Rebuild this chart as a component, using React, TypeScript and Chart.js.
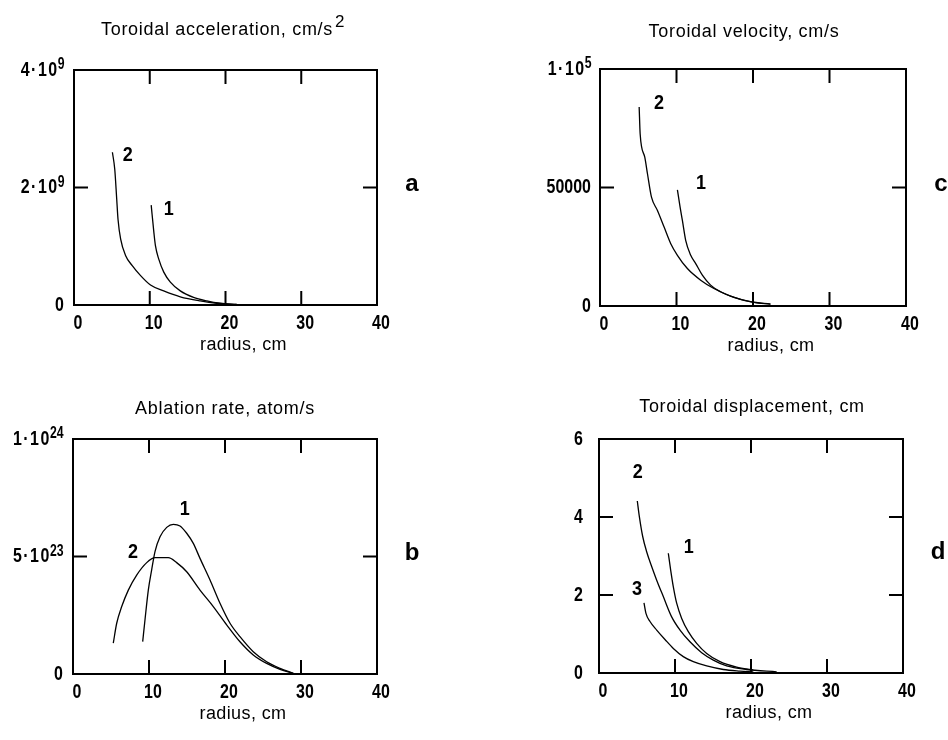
import { useEffect, useRef } from "react";
import { Chart, registerables } from "chart.js";

Chart.register(...registerables);

// ---- radius axis ----
const radiusTicks = [0, 10, 20, 30, 40];
const radiusInner = [10, 20, 30];

// ---- (a) toroidal acceleration, cm/s^2 ----
const accR1 = [10.19, 10.54, 10.75, 11.19, 11.85, 12.72, 14.03, 15.78, 17.53, 19.28, 21.47];
const accV1 = [1.7e9, 1.24e9, 1.01e9, 0.78e9, 0.56e9, 0.39e9, 0.24e9, 0.13e9, 0.07e9, 0.03e9, 0.01e9];
const accR2 = [5.07, 5.38, 5.64, 5.81, 6.16, 6.82, 7.69, 8.79, 10.1, 11.84, 14.03, 16.66, 18.84, 21.47];
const accV2 = [2.6e9, 2.31e9, 1.8e9, 1.46e9, 1.12e9, 0.84e9, 0.67e9, 0.5e9, 0.34e9, 0.24e9, 0.14e9, 0.07e9, 0.03e9, 0.01e9];
const accYTicks = [0, 2e9, 4e9];
const accYBase = ["0", "2·10", "4·10"];
const accYExp = ["", "9", "9"];

// ---- (c) toroidal velocity, cm/s ----
const velR1 = [10.12, 10.47, 10.77, 11.2, 11.86, 12.51, 13.38, 14.46, 15.77, 17.5, 20.1, 22.28];
const velV1 = [49000, 41700, 36100, 27700, 21400, 17900, 13000, 8800, 6000, 3600, 1500, 800];
const velR2 = [5.12, 5.25, 5.86, 6.21, 6.73, 7.51, 8.38, 9.25, 10.12, 11.42, 13.16, 14.89, 17.07, 19.67, 22.28];
const velV2 = [84000, 72600, 62700, 55700, 45900, 40300, 33300, 26300, 21400, 15800, 10900, 7400, 4200, 1800, 800];
const velYTicks = [0, 50000, 100000];
const velYBase = ["0", "50000", "1·10"];
const velYExp = ["", "", "5"];

// ---- (b) ablation rate, atom/s ----
const ablR1 = [9.17, 9.47, 9.91, 10.35, 10.79, 11.45, 12.33, 13.2, 14.08, 14.96, 15.83, 16.71, 18.03, 19.34, 20.66, 21.97, 23.72, 25.48, 27.24, 28.99];
const ablV1 = [1.38e23, 2.3e23, 3.57e23, 4.43e23, 5.21e23, 5.84e23, 6.24e23, 6.37e23, 6.3e23, 5.99e23, 5.56e23, 4.92e23, 4.0e23, 3.01e23, 2.16e23, 1.59e23, 0.95e23, 0.52e23, 0.24e23, 0.03e23];
const ablR2 = [5.3, 5.75, 6.41, 7.28, 8.38, 9.7, 10.79, 12.54, 13.64, 14.96, 16.71, 18.46, 20.22, 21.97, 23.72, 25.48, 27.24, 28.99];
const ablV2 = [1.31e23, 2.16e23, 2.87e23, 3.57e23, 4.21e23, 4.74e23, 4.95e23, 4.95e23, 4.74e23, 4.35e23, 3.57e23, 2.87e23, 2.09e23, 1.37e23, 0.81e23, 0.45e23, 0.2e23, 0.03e23];
const ablYTicks = [0, 5e23, 1e24];
const ablYBase = ["0", "5·10", "1·10"];
const ablYExp = ["", "23", "24"];

// ---- (d) toroidal displacement, cm ----
const dspR1 = [9.12, 9.43, 9.78, 10.22, 10.88, 11.75, 12.85, 14.17, 15.92, 18.11, 20.3];
const dspV1 = [3.07, 2.64, 2.21, 1.79, 1.4, 1.06, 0.76, 0.5, 0.29, 0.15, 0.08];
const dspR2 = [5.04, 5.31, 5.75, 6.27, 6.93, 7.59, 8.46, 9.56, 10.66, 11.97, 13.51, 15.04, 16.8, 19.43, 23.38];
const dspV2 = [4.41, 4.01, 3.5, 3.11, 2.73, 2.38, 1.96, 1.44, 1.1, 0.8, 0.52, 0.33, 0.18, 0.09, 0.03];
const dspR3 = [5.92, 6.18, 6.71, 7.59, 8.68, 9.78, 11.09, 12.41, 14.17, 16.36, 18.55, 20.3];
const dspV3 = [1.8, 1.53, 1.32, 1.1, 0.86, 0.63, 0.42, 0.29, 0.18, 0.09, 0.05, 0.03];
const dspYTicks = [0, 2, 4, 6];
const dspYBase = ["0", "2", "4", "6"];
const dspYExp = ["", "", "", ""];

const W = 474;
const H = 370;
const FONT = "'Liberation Sans', Arial, sans-serif";

type Series = { r: number[]; v: number[] };
type CurveLabel = { text: string; x: number; y: number };
type PanelSpec = {
  left: number;
  top: number;
  area: { l: number; t: number; r: number; b: number };
  yMax: number;
  yTicks: number[];
  yBase: string[];
  yExp: string[];
  yInner: number[];
  yPad: number;
  series: Series[];
  curveLabels: CurveLabel[];
  title: string;
  titleSup?: string;
  titleX: number;
  titleY: number;
  letter: string;
};

const panels: PanelSpec[] = [
  {
    left: 0, top: 0,
    area: { l: 74, t: 70, r: 377, b: 305 },
    yMax: 4e9, yTicks: accYTicks, yBase: accYBase, yExp: accYExp, yInner: [2e9], yPad: 10,
    series: [{ r: accR1, v: accV1 }, { r: accR2, v: accV2 }],
    curveLabels: [
      { text: "2", x: 7.1, y: 2.54e9 },
      { text: "1", x: 12.5, y: 1.63e9 },
    ],
    title: "Toroidal acceleration, cm/s", titleSup: "2", titleX: 217, titleY: 35,
    letter: "a",
  },
  {
    left: 474, top: 0,
    area: { l: 126, t: 69, r: 432, b: 306 },
    yMax: 100000, yTicks: velYTicks, yBase: velYBase, yExp: velYExp, yInner: [50000], yPad: 9,
    series: [{ r: velR1, v: velV1 }, { r: velR2, v: velV2 }],
    curveLabels: [
      { text: "2", x: 7.7, y: 85300 },
      { text: "1", x: 13.2, y: 51700 },
    ],
    title: "Toroidal velocity, cm/s", titleX: 270, titleY: 37,
    letter: "c",
  },
  {
    left: 0, top: 370,
    area: { l: 73, t: 69, r: 377, b: 304 },
    yMax: 1e24, yTicks: ablYTicks, yBase: ablYBase, yExp: ablYExp, yInner: [5e23], yPad: 10,
    series: [{ r: ablR1, v: ablV1 }, { r: ablR2, v: ablV2 }],
    curveLabels: [
      { text: "1", x: 14.7, y: 6.98e23 },
      { text: "2", x: 7.9, y: 5.15e23 },
    ],
    title: "Ablation rate, atom/s", titleX: 225, titleY: 44,
    letter: "b",
  },
  {
    left: 474, top: 370,
    area: { l: 125, t: 69, r: 429, b: 303 },
    yMax: 6, yTicks: dspYTicks, yBase: dspYBase, yExp: dspYExp, yInner: [2, 4], yPad: 16,
    series: [{ r: dspR1, v: dspV1 }, { r: dspR2, v: dspV2 }, { r: dspR3, v: dspV3 }],
    curveLabels: [
      { text: "2", x: 5.1, y: 5.15 },
      { text: "1", x: 11.8, y: 3.23 },
      { text: "3", x: 5.0, y: 2.15 },
    ],
    title: "Toroidal displacement, cm", titleX: 278, titleY: 42,
    letter: "d",
  },
];

// Condensed digits: bold face squeezed horizontally
const NUM_SIZE = 21;
const NUM_SX = 0.76;
const SUP_SIZE = 17;
const SUP_SX = 0.72;

function narrowWidth(ctx: CanvasRenderingContext2D, text: string, size: number, sx: number) {
  ctx.font = `bold ${size}px ${FONT}`;
  return ctx.measureText(text).width * sx;
}

function drawNarrow(
  ctx: CanvasRenderingContext2D,
  text: string,
  x: number,
  y: number,
  size: number,
  sx: number,
  align: CanvasTextAlign,
  baseline: CanvasTextBaseline,
  spacing = 0
) {
  ctx.save();
  ctx.font = `bold ${size}px ${FONT}`;
  (ctx as any).letterSpacing = `${spacing}px`;
  ctx.translate(x, y);
  ctx.scale(sx, 1);
  ctx.textAlign = align;
  ctx.textBaseline = baseline;
  ctx.fillText(text, 0, 0);
  ctx.restore();
}

// Frame, inward ticks, tick labels, captions and curve numbers
const decorPlugin = {
  id: "decor",
  afterDraw(chart: any, _args: any, opts: any) {
    const spec: PanelSpec = opts.spec;
    const ctx: CanvasRenderingContext2D = chart.ctx;
    const { left, right, top, bottom } = chart.chartArea;
    const x = chart.scales.x;
    const y = chart.scales.y;
    ctx.save();
    ctx.strokeStyle = "#000";
    ctx.fillStyle = "#000";
    ctx.lineWidth = 2;
    ctx.strokeRect(left, top, right - left, bottom - top);
    const tl = 14;
    ctx.beginPath();
    for (const v of radiusInner) {
      const px = x.getPixelForValue(v);
      ctx.moveTo(px, top);
      ctx.lineTo(px, top + tl);
      ctx.moveTo(px, bottom);
      ctx.lineTo(px, bottom - tl);
    }
    for (const v of spec.yInner) {
      const py = y.getPixelForValue(v);
      ctx.moveTo(left, py);
      ctx.lineTo(left + tl, py);
      ctx.moveTo(right, py);
      ctx.lineTo(right - tl, py);
    }
    ctx.stroke();

    // radius tick labels
    x.ticks.forEach((t: any) => {
      drawNarrow(ctx, String(t.value), x.getPixelForValue(t.value) + 4, bottom + 18, NUM_SIZE, NUM_SX, "center", "middle");
    });

    // value tick labels with raised exponent
    y.ticks.forEach((t: any, i: number) => {
      const py = y.getPixelForValue(t.value);
      const base = spec.yBase[i] ?? "";
      const exp = spec.yExp[i] ?? "";
      const rx = left - spec.yPad;
      const wExp = exp ? narrowWidth(ctx, exp, SUP_SIZE, SUP_SX) : 0;
      const spacing = base.includes("·") ? 2 : 0;
      // trailing letter spacing is cancelled so the exponent sits against the base
      drawNarrow(ctx, base, rx - wExp + spacing * NUM_SX, py, NUM_SIZE, NUM_SX, "right", "middle", spacing);
      if (exp) drawNarrow(ctx, exp, rx - wExp + 0.5, py - 1, SUP_SIZE, SUP_SX, "left", "alphabetic");
    });

    // title
    ctx.font = `18px ${FONT}`;
    (ctx as any).letterSpacing = "0.7px";
    ctx.textAlign = "center";
    ctx.textBaseline = "alphabetic";
    ctx.fillText(spec.title, spec.titleX, spec.titleY);
    if (spec.titleSup) {
      const w = ctx.measureText(spec.title).width;
      ctx.textAlign = "left";
      ctx.font = `17px ${FONT}`;
      ctx.fillText(spec.titleSup, spec.titleX + w / 2 + 2, spec.titleY - 8);
    }

    // axis title
    ctx.font = `18px ${FONT}`;
    (ctx as any).letterSpacing = "0.4px";
    ctx.textAlign = "center";
    ctx.fillText("radius, cm", (left + right) / 2 + 18, bottom + 45);
    (ctx as any).letterSpacing = "0px";

    // panel letter
    ctx.font = `bold 24px ${FONT}`;
    ctx.fillText(spec.letter, right + 35, (top + bottom) / 2 + 3);

    // curve numbers
    for (const c of spec.curveLabels) {
      drawNarrow(ctx, c.text, x.getPixelForValue(c.x), y.getPixelForValue(c.y), 20, 0.9, "center", "middle");
    }
    ctx.restore();
  },
};

function Panel({ spec }: { spec: PanelSpec }) {
  const ref = useRef<HTMLCanvasElement>(null);
  useEffect(() => {
    const canvas = ref.current;
    if (!canvas) return;
    const { area } = spec;
    const chart = new Chart(canvas, {
      type: "scatter",
      data: {
        datasets: spec.series.map((s) => ({
          data: s.r.map((r, i) => ({ x: r, y: s.v[i] })),
          showLine: true,
          borderColor: "#000",
          borderWidth: 1.3,
          pointRadius: 0,
          cubicInterpolationMode: "monotone" as const,
          fill: false,
        })),
      },
      options: {
        animation: false,
        responsive: false,
        devicePixelRatio: 1,
        layout: { padding: { left: 0, top: area.t, right: W - area.r, bottom: 0 } },
        plugins: {
          legend: { display: false },
          tooltip: { enabled: false },
          title: { display: false },
          decor: { spec },
        } as any,
        scales: {
          x: {
            type: "linear",
            min: 0,
            max: 40,
            grid: { display: false },
            border: { display: false },
            ticks: { display: false },
            afterBuildTicks: (s: any) => {
              s.ticks = radiusTicks.map((v) => ({ value: v }));
            },
            afterFit: (s: any) => {
              s.height = H - area.b;
            },
          },
          y: {
            type: "linear",
            min: 0,
            max: spec.yMax,
            grid: { display: false },
            border: { display: false },
            ticks: { display: false },
            afterBuildTicks: (s: any) => {
              s.ticks = spec.yTicks.map((v) => ({ value: v }));
            },
            afterFit: (s: any) => {
              s.width = area.l;
            },
          },
        },
      },
      plugins: [decorPlugin],
    });
    return () => chart.destroy();
  }, [spec]);
  return (
    <canvas
      ref={ref}
      width={W}
      height={H}
      style={{ position: "absolute", left: spec.left, top: spec.top, width: W, height: H }}
    />
  );
}

export default function App() {
  return (
    <div style={{ position: "absolute", left: 0, top: 0, width: 948, height: 740, background: "#fff" }}>
      {panels.map((p) => (
        <Panel key={p.letter} spec={p} />
      ))}
    </div>
  );
}
